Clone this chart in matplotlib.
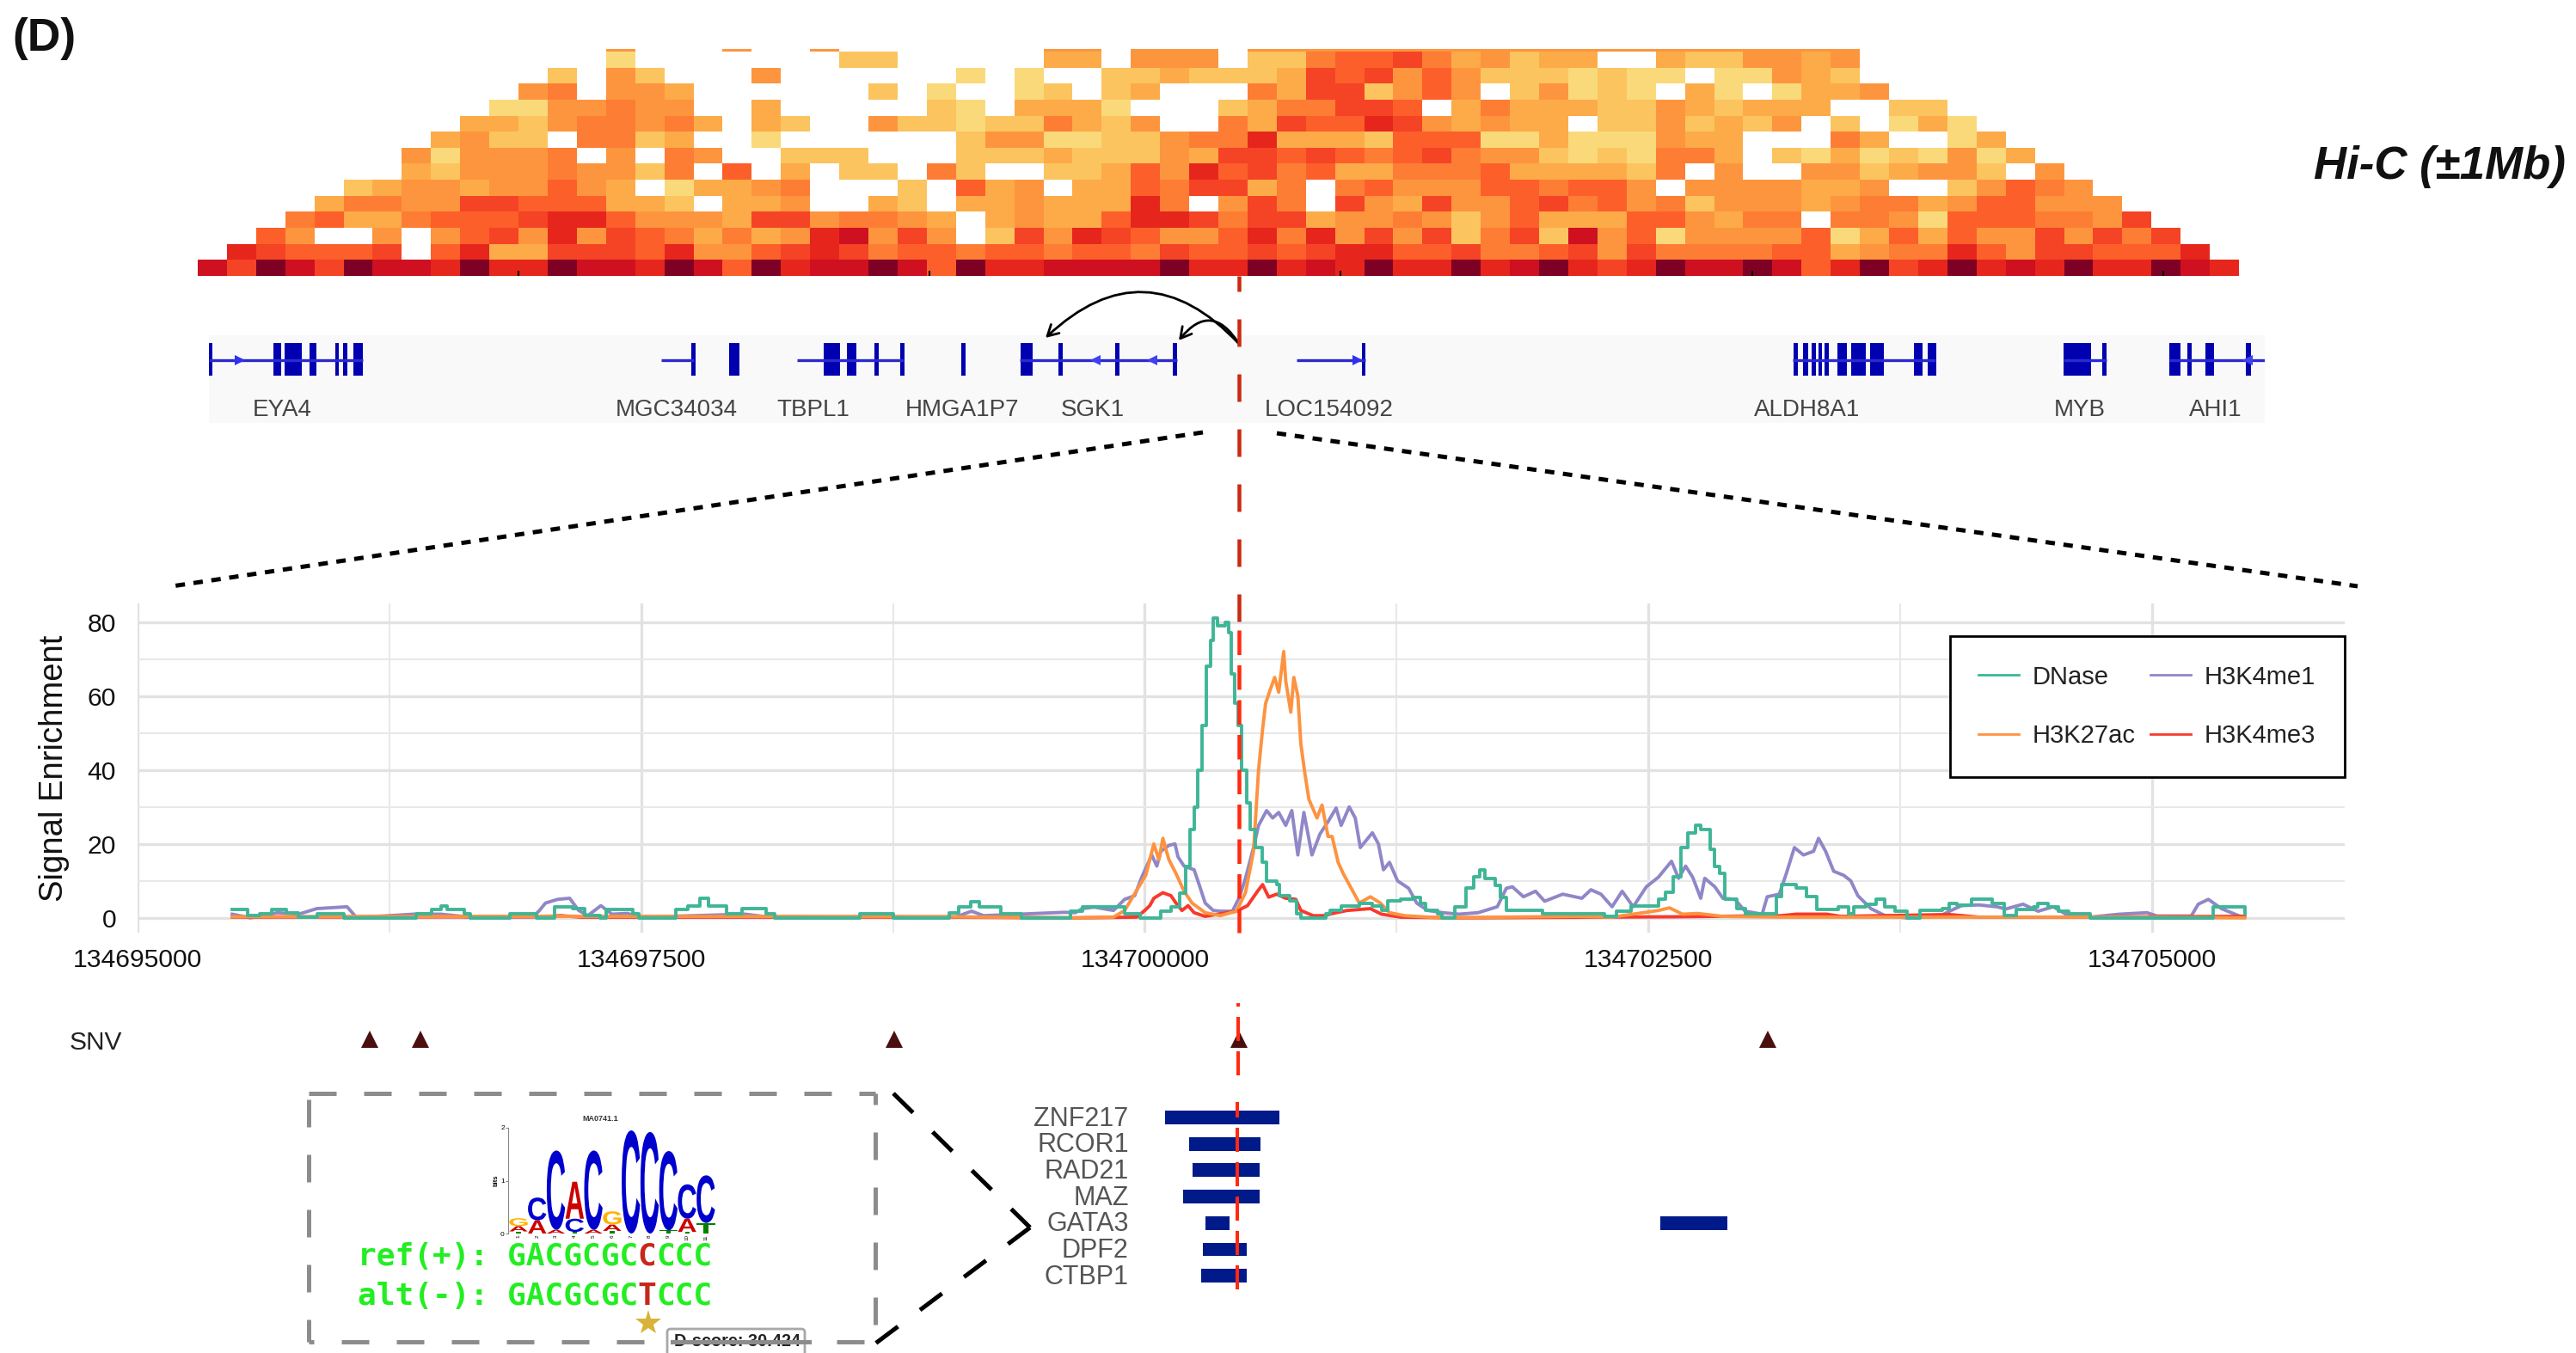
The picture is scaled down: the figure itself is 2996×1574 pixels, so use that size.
import numpy as np
import matplotlib
matplotlib.use("Agg")
import matplotlib.pyplot as plt
from matplotlib.colors import ListedColormap
from matplotlib.font_manager import FontProperties
from matplotlib.patches import FancyArrowPatch, FancyBboxPatch, PathPatch
from matplotlib.textpath import TextPath
from matplotlib.transforms import Affine2D

plt.rcParams["font.family"] = ["Liberation Sans", "DejaVu Sans"]
plt.rcParams["lines.scale_dashes"] = False

W, H = 2996, 1574

# Hi-C levels, bottom row first. "." is an empty cell.
hic_starts = [0, 1, 2, 3, 4, 5, 7, 7, 8, 9, 10, 11, 12, 14, 14]
hic_rows = [
    "8698698879" "7798879859" "7889859778" "8889779" "7879779789" "7679889857" "9679787977987",
    "765556.572" "2666573356" "7645545545" "5" "4655656775" "5644563644" "4455234475" "3665557",
    "53..3.3563" "7365424237" "8363.16376" "5335747363" "6146183503" "3335025253" "363646",
    "4522455567" "7533326634" "432.23225" "7764662334" "3135222553" "244.443055" "54436",
    "2443366555" "221.223..2" "1.223222" "74.364.632" "6335645341" "3332344235" "5333",
    "1233233532" ".02234...1" ".523.22" "546624.453" "33554553.3" "333223..13" "543",
    "2133343314" ".5.2.11.41" "..112" "5375645224" "445222214." "3..3312331" ".3",
    "303334.3.4" "3..111...1" "11211" "1326656545" "6433101044" "2.10201030" "2",
    "2311.4412." ".0......13" "3001" "1344722215" "5500200032" "2...42..02",
    "221344342." "21..311011" "421" "3..4265576" "32322.1131" "213.1.020",
    "0033433..2" ".....10.22" "20" "...1244665" ".242221132" "1222..11",
    "34.332......" "1.0..01.1" "2...426613" "53.13010.2" "0.0223",
    "1.31...3" "......0.0..1" "1211126563" "531110100." "00321",
    "0.......11" ".....22." "333.114556" "423122..21" "13323",
    "3...3..3.......33.333.333333333333333333333",
]
hic_colors = ["#FAD97A", "#FBC45F", "#FCAB48", "#FD953E", "#FD7D35",
              "#FD5F2A", "#F54325", "#E6261C", "#CF1020", "#7F0025"]
hic_ticks = [11.0, 25.1, 39.2, 53.3, 67.4]

# genes, in kb along the 2 Mb window
gene_names = ["EYA4", "MGC34034", "TBPL1", "HMGA1P7", "SGK1", "LOC154092", "ALDH8A1", "MYB", "AHI1"]
gene_label_x = [71.5, 455, 588, 732.5, 860, 1089.5, 1554.7, 1819.8, 1952]
gene_lines = [(0, 150), (440, 472), (572, 676), (732, 736), (789, 942),
              (1058, 1125), (1541, 1680), (1804, 1846), (1907, 2000)]
gene_exons = [
    [(0, 3.6), (62.5, 70.1), (73.6, 90.3), (97.9, 104.8), (122.9, 126.3), (130.5, 134.7), (140.2, 149.9)],
    [(469, 473.1), (506.4, 516.1)],
    [(598, 613.9), (620.9, 629.9), (647.2, 651.4), (672.2, 676.4)],
    [(731.8, 736)],
    [(789.4, 801.2), (826.2, 830.3), (881.6, 885.8), (937.8, 942)],
    [(1121.6, 1125.3)],
    [(1541.3, 1545.8), (1551, 1555.5), (1559.2, 1563.7), (1565.9, 1568.9), (1571.9, 1575.6),
     (1584.6, 1593.5), (1597.3, 1612.2), (1616, 1629.4), (1658.5, 1666.7), (1672, 1680.2)],
    [(1804.2, 1831), (1841.5, 1846)],
    [(1907.2, 1917.7), (1924.4, 1928.9), (1942.3, 1950.5), (1981.9, 1986.4)],
]
arrow_right = [29.9, 1117.9]
arrow_left = [862.2, 917.7, 1983]

# signal tracks, position is bp after 134695000
chrom_start = 134695000
dnase_pos = [470, 545, 605, 665, 740, 800, 890, 1025, 1385, 1460, 1505, 1535, 1620, 1650, 1850, 1980,
             2070, 2160, 2220, 2295, 2325, 2460, 2490, 2670, 2730, 2790, 2835, 2925, 3000, 3120, 3165,
             3585, 3750, 4030, 4075, 4135, 4180, 4285, 4390, 4630, 4690, 4900, 4975, 5080, 5130, 5175,
             5205, 5225, 5245, 5265, 5285, 5305, 5325, 5340, 5360, 5400, 5415, 5430, 5445, 5465, 5480,
             5505, 5525, 5550, 5585, 5605, 5655, 5670, 5720, 5755, 5775, 5900, 5920, 5975, 6065, 6130,
             6175, 6205, 6270, 6330, 6370, 6395, 6455, 6475, 6540, 6595, 6635, 6665, 6690, 6740, 6765,
             6795, 6975, 7280, 7340, 7415, 7550, 7585, 7625, 7660, 7695, 7735, 7760, 7805, 7830, 7855,
             7880, 7940, 7980, 8135, 8160, 8235, 8285, 8335, 8445, 8495, 8520, 8580, 8630, 8675, 8725,
             8785, 8850, 8960, 8995, 9030, 9105, 9205, 9265, 9325, 9410, 9435, 9485, 9535, 9585, 9695,
             10270, 10305, 10415, 10460]
dnase_val = [2.3, 0.6, 1, 2.2, 1.4, 0.2, 1, 0, 1, 2.2, 3.3, 2.2, 1, 0, 1, 0,
             3, 2.6, 0.6, 0, 2.2, 1, 0, 2.2, 3.3, 5.3, 3.3, 1, 2.4, 1, 0,
             1.2, 0, 1.4, 3, 4.3, 3, 1.2, 0, 1.8, 3, 1, 0, 1.8, 3, 6.8,
             14, 24, 30, 40, 52, 68, 75, 81, 79, 80, 77, 66, 58, 52, 40,
             31, 24, 19, 15, 10, 9, 6, 4.5, 1, 0, 1, 2, 3.3, 4, 3.3,
             2, 4.5, 5, 5.6, 4, 2, 1, 0, 3, 8, 11, 13, 10.7, 8.7, 5.6,
             2, 1, 0.5, 1.8, 3.3, 5, 7, 11, 19, 23, 25, 24, 18.5, 14, 12,
             5, 2.5, 1, 5.7, 9, 8, 5.7, 2.2, 3, 1, 3, 3.7, 5, 3, 1.8,
             0, 2, 2.5, 4, 3.5, 5, 4, 0.6, 2.2, 3, 4, 3, 1.8, 1, 0,
             0, 3, 3, 1]
me1_pos = [470, 560, 695, 800, 890, 1040, 1085, 1220, 1370, 1505, 1650, 1965, 1995, 2025, 2085, 2145,
           2190, 2235, 2300, 2355, 2430, 2505, 3015, 3120, 4065, 4140, 4200, 4600, 4655, 4690, 4750,
           4845, 4900, 4950, 4985, 5035, 5060, 5080, 5120, 5150, 5165, 5195, 5245, 5270, 5300, 5340,
           5375, 5435, 5470, 5500, 5540, 5565, 5605, 5635, 5665, 5700, 5730, 5760, 5790, 5830, 5870,
           5910, 5950, 5975, 6015, 6045, 6070, 6130, 6160, 6185, 6215, 6255, 6310, 6350, 6405, 6480,
           6560, 6655, 6750, 6795, 6825, 6880, 6940, 6985, 7075, 7170, 7215, 7265, 7320, 7370, 7425,
           7490, 7550, 7615, 7650, 7685, 7720, 7760, 7780, 7830, 7870, 7930, 7980, 8065, 8090, 8150,
           8185, 8225, 8270, 8320, 8345, 8380, 8420, 8470, 8505, 8540, 8605, 8675, 8785, 8945, 8995,
           9055, 9140, 9230, 9275, 9360, 9435, 9510, 9585, 9695, 9840, 9975, 10025, 10195, 10230,
           10280, 10345, 10430, 10460]
me1_val = [1, 0, 1.4, 1, 2.5, 3, 0.2, 0.5, 1, 1, 0.2, 0.3, 2, 4, 5, 5.3,
           2, 0.6, 3.3, 1, 1.2, 0.2, 1, 0.3, 0.3, 1.8, 0.6, 1.5, 1.4, 2.5, 2.9,
           2, 5, 6, 11, 17, 14, 18, 19.6, 20, 16.5, 14, 13, 9, 4, 2,
           1.8, 1.8, 5.6, 10.7, 19, 25, 29, 27, 28.5, 25, 29, 17, 28.5, 17, 22.7,
           26, 29.7, 25, 30, 27, 19, 23, 20, 13, 15, 10, 8, 4, 2, 1.4,
           1, 1.4, 3, 8, 8.4, 5.7, 7.2, 4.5, 6.4, 5.3, 7.6, 6.4, 3, 7.2, 3,
           8.4, 11, 15.3, 10.7, 14, 11, 5.3, 10.7, 8.4, 5.3, 5, 1.8, 1, 5.7, 6.4,
           12, 19, 17, 18, 21.5, 18, 12.6, 11.5, 10, 6, 2.5, 0.6, 0, 0.4, 1.8,
           3.3, 3.5, 3, 2.4, 3.7, 1.8, 3, 0.6, 0.2, 1, 1.4, 0.5, 0.5, 3.7,
           5, 2.5, 0.6, 0.2]
k27ac_pos = [470, 1500, 3000, 4000, 4655, 4845, 4900, 4955, 5005, 5045, 5070, 5090, 5120, 5155, 5195,
             5235, 5300, 5375, 5455, 5500, 5540, 5565, 5585, 5600, 5625, 5645, 5665, 5690, 5700, 5725,
             5740, 5760, 5775, 5795, 5815, 5855, 5880, 5910, 5930, 5960, 5985, 6025, 6065, 6120, 6170,
             6215, 6290, 6465, 7130, 7320, 7475, 7550, 7605, 7670, 7745, 7870, 8160, 8650, 9265, 9880, 10460]
k27ac_val = [0.3, 0.4, 0.4, 0.3, 0, 0.2, 2, 7, 11.5, 20, 15.7, 21.5, 15.7, 12, 7.2,
             4, 1.4, 0.6, 1.8, 6.8, 18, 40, 51, 58, 62, 65, 61, 72, 64, 55.6,
             65, 60, 47, 39, 32, 27, 30.5, 22, 22, 15, 12, 8, 4, 5.7, 4,
             1.4, 0.6, 0, 0.4, 0.2, 1.4, 2, 2.7, 1, 1.2, 0.4, 0.2, 0.2, 0.2, 0.2, 0]
k4me3_pos = [470, 2000, 2100, 2200, 4000, 4655, 4960, 5000, 5025, 5045, 5090, 5130, 5155, 5185, 5215,
             5245, 5300, 5455, 5510, 5560, 5585, 5615, 5655, 5700, 5750, 5775, 5835, 5890, 5950, 6005,
             6120, 6175, 6270, 6560, 7640, 8160, 8235, 8385, 8455, 8995, 9140, 9630, 10460]
k4me3_val = [0.2, 0.3, 0.6, 0.2, 0.2, 0, 0.2, 2, 3.3, 5.3, 6.8, 6, 4, 2, 3.3,
             1.4, 0.4, 1.8, 3.3, 7.2, 9, 5.6, 6.4, 5.3, 5, 2, 0.6, 0.6, 1.4, 2,
             2.5, 1, 0.2, 0, 0.3, 0.6, 1, 1, 0.4, 0.9, 0.2, 0.2, 0.4]
x_ticks = [0, 2500, 5000, 7500, 10000]
y_ticks = [0, 20, 40, 60, 80]

# SNVs and TF binding sites
snv_pos = [1152, 1404, 3756, 5468, 8093]
tf_names = ["ZNF217", "RCOR1", "RAD21", "MAZ", "GATA3", "DPF2", "CTBP1"]
tf_starts = [5101, 5219, 5238, 5189, 5302, 5287, 5280]
tf_ends = [5667, 5574, 5571, 5571, 5422, 5508, 5508]
tf2_row = [4]
tf2_start = [7559]
tf2_end = [7892]

# motif logo, (letter, height in bits) from the bottom of each position
logo_stacks = [
    [("T", 0.04), ("A", 0.10), ("G", 0.15)],
    [("A", 0.25), ("C", 0.43)],
    [("A", 0.07), ("C", 1.50)],
    [("T", 0.03), ("C", 0.25), ("A", 0.70)],
    [("A", 0.07), ("C", 1.50)],
    [("T", 0.05), ("A", 0.12), ("G", 0.25)],
    [("C", 1.95)],
    [("C", 1.92)],
    [("T", 0.06), ("C", 1.50)],
    [("T", 0.03), ("A", 0.25), ("C", 0.65)],
    [("T", 0.20), ("C", 0.90)],
]
logo_colors = {"A": "#CC0000", "C": "#0000CC", "G": "#FFB300", "T": "#008000"}

track_colors = {"DNase": "#3FB597", "H3K27ac": "#FD9340", "H3K4me1": "#8F87C8", "H3K4me3": "#F8392C"}


def add_axes_px(fig, left, top, right, bottom):
    return fig.add_axes([left / W, 1 - bottom / H, (right - left) / W, (bottom - top) / H])


fig = plt.figure(figsize=(W / 100, H / 100), dpi=100)

# Hi-C triangle
ax_hic = add_axes_px(fig, 230, 57, 2604, 321)
hic = np.full((15, 70), np.nan)
for r, (start, row) in enumerate(zip(hic_starts, hic_rows)):
    for i, ch in enumerate(row):
        if ch != ".":
            hic[r, start + i] = int(ch)
y_edges = np.append(np.arange(15), 14.16)
ax_hic.pcolormesh(np.arange(71), y_edges, np.ma.masked_invalid(hic),
                  cmap=ListedColormap(hic_colors), vmin=-0.5, vmax=9.5)
ax_hic.vlines(hic_ticks, 0, 0.3, color="black", lw=1.5)
ax_hic.set_xlim(0, 70)
ax_hic.set_ylim(0, 14.16)
ax_hic.axis("off")

# genes
ax_gene = add_axes_px(fig, 243, 390, 2634, 492)
ax_gene.set_facecolor("#F9F9F9")
ax_gene.set_xlim(0, 2000)
ax_gene.set_ylim(102, 0)
for line, exons, name, lx in zip(gene_lines, gene_exons, gene_names, gene_label_x):
    if line[1] - line[0] > 5:
        ax_gene.plot(line, [29.3, 29.3], color="#2A2AD0", lw=2.4, solid_capstyle="butt")
    ax_gene.broken_barh([(a, b - a) for a, b in exons], (9, 38), color="#0000B0", lw=0)
    ax_gene.text(lx, 87, name, ha="center", va="center", fontsize=20, color="#444444")
ax_gene.plot(arrow_right, [29.3] * 2, ls="none", marker=">", ms=9, color="#3030F0", mew=0)
ax_gene.plot(arrow_left, [29.3] * 3, ls="none", marker="<", ms=9, color="#4040F0", mew=0)
for side in ax_gene.spines.values():
    side.set_visible(False)
ax_gene.set_xticks([])
ax_gene.set_yticks([])

# signal tracks
ax = add_axes_px(fig, 160, 702, 2727, 1085)
x_lim_right = (2727 - 160) / 0.23428
ax.set_xlim(0, x_lim_right)
ax.set_ylim(-4, 85)
ax.set_xticks(x_ticks)
ax.set_xticklabels([str(chrom_start + t) for t in x_ticks])
ax.set_xticks([1250, 3750, 6250, 8750], minor=True)
ax.set_yticks(y_ticks)
ax.set_yticks([10, 30, 50, 70], minor=True)
ax.grid(which="major", color="#E2E2E2", lw=2.4)
ax.grid(which="minor", color="#E8E8E8", lw=1.5)
ax.set_axisbelow(True)
ax.tick_params(which="both", length=0)
ax.tick_params(axis="x", labelsize=21.7, pad=13, labelcolor="#111111")
ax.tick_params(axis="y", labelsize=21.7, pad=18, labelcolor="#111111")
for side in ax.spines.values():
    side.set_visible(False)
ax.set_ylabel("Signal Enrichment", fontsize=27.5, color="#111111", labelpad=15)
ax.plot(me1_pos, me1_val, color=track_colors["H3K4me1"], lw=2.8, label="H3K4me1")
ax.plot(k4me3_pos, k4me3_val, color=track_colors["H3K4me3"], lw=2.8, label="H3K4me3")
ax.plot(k27ac_pos, k27ac_val, color=track_colors["H3K27ac"], lw=2.8, label="H3K27ac")
ax.step(dnase_pos, dnase_val, where="post", color=track_colors["DNase"], lw=2.8, label="DNase")
handles, labels = ax.get_legend_handles_labels()
order = [labels.index(n) for n in ["DNase", "H3K27ac", "H3K4me1", "H3K4me3"]]
leg = ax.legend([handles[i] for i in order], [labels[i] for i in order], ncol=2, loc="lower right",
                bbox_to_anchor=(1, (1085 - 904) / 383), borderaxespad=0, fontsize=21, frameon=True,
                fancybox=False, edgecolor="black", framealpha=1, handlelength=1.6, handletextpad=0.55,
                columnspacing=0.6, labelspacing=1.4, borderpad=1.15)
leg.get_frame().set_linewidth(2)
for t in leg.get_texts():
    t.set_color("#222222")
for h in leg.get_lines():
    h.set_linewidth(2)

# SNVs and TF rows share the x scale of the tracks, rows are 30.7 px apart
ax_tf = add_axes_px(fig, 160, 1160, 2727, 1560)
ax_tf.set_xlim(0, x_lim_right)
ax_tf.set_ylim((1560 - 1300) / 30.7, (1160 - 1300) / 30.7)
ax_tf.axis("off")
rows = np.arange(len(tf_names))
ax_tf.barh(rows, np.array(tf_ends) - np.array(tf_starts), left=tf_starts, height=0.52, color="#001A8A")
ax_tf.barh(tf2_row, np.array(tf2_end) - np.array(tf2_start), left=tf2_start, height=0.52, color="#001A8A")
for r, name in zip(rows, tf_names):
    ax_tf.text(4920, r + 0.05, name, ha="right", va="center", fontsize=22, color="#555555")
ax_tf.plot(snv_pos, [-2.98] * len(snv_pos), ls="none", marker="^", ms=14, color="#4B0F0F", mew=0)
ax_tf.text(-210, -2.85, "SNV", ha="center", va="center", fontsize=21.5, color="#222222")

# motif logo
ax_logo = add_axes_px(fig, 591, 1312, 834, 1435)
ax_logo.set_xlim(0.45, 11.6)
ax_logo.set_ylim(0, 2)
ax_logo.patch.set_alpha(0)
logo_font = FontProperties(family="Liberation Sans", weight="bold")
for p, stack in enumerate(logo_stacks, start=1):
    base = 0
    for letter, height in stack:
        tp = TextPath((0, 0), letter, size=1, prop=logo_font)
        box = tp.get_extents()
        tr = (Affine2D().translate(-box.x0, -box.y0).scale(0.98 / box.width, height / box.height)
              .translate(p - 0.49, base))
        ax_logo.add_patch(PathPatch(tr.transform_path(tp), color=logo_colors[letter], lw=0))
        base += height
for name in ["top", "right", "bottom"]:
    ax_logo.spines[name].set_visible(False)
ax_logo.spines["left"].set_color("#888888")
ax_logo.set_yticks([0, 1, 2])
ax_logo.set_xticks(range(1, 12))
ax_logo.tick_params(axis="y", labelsize=6, length=2, pad=1, color="#888888")
ax_logo.tick_params(axis="x", labelsize=4.5, length=0, pad=1, labelrotation=90)
ax_logo.set_ylabel("bits", fontsize=5.5, fontweight="bold", labelpad=1)
ax_logo.set_title("MA0741.1", fontsize=6.5, fontweight="bold", color="#333333", pad=6, x=0.44)

# everything drawn on the picture itself goes on a pixel overlay
ov = fig.add_axes([0, 0, 1, 1], zorder=10)
ov.set_xlim(0, W)
ov.set_ylim(H, 0)
ov.axis("off")
ov.patch.set_alpha(0)
PX = 0.72

ov.text(14, 45, "(D)", fontsize=38.5, fontweight="bold", ha="left", va="center", color="#111111")
ov.text(2691, 194, "Hi-C (±1Mb)", fontsize=38, fontweight="bold", fontstyle="italic",
        ha="left", va="center", color="#111111")

# zoom guides
for x0, y0, x1, y1 in [(1399, 503, 200, 682), (1485, 504, 2742, 682)]:
    ov.plot([x0, x1], [y0, y1], color="black", lw=5 * PX, ls=(0, (11 * PX, 10 * PX)))

# SNV line, dark above the tracks and bright red through them and the TF rows
x_snv = 1441
ov.plot([x_snv, x_snv], [321, 723], color="#C92A10", lw=4.5 * PX, ls=(14 * PX, (32 * PX, 32 * PX)))
ov.plot([x_snv, x_snv], [733, 1085], color="#FF2A10", lw=4.5 * PX, ls=(0, (28.5 * PX, 12 * PX)))
ov.plot([x_snv - 1, x_snv - 1], [1167, 1252], color="#FF2A10", lw=4 * PX, ls=(24 * PX, (28 * PX, 12 * PX)))
ov.plot([x_snv - 2, x_snv - 2], [1282, 1501], color="#FF2A10", lw=4 * PX, ls=(10 * PX, (28 * PX, 12 * PX)))

# loops
ov.add_patch(FancyArrowPatch((1441, 400), (1216, 393), connectionstyle="arc3,rad=0.5",
                             arrowstyle="->,head_length=9,head_width=5", color="black", lw=2,
                             shrinkA=0, shrinkB=0))
ov.add_patch(FancyArrowPatch((1441, 400), (1371, 396), connectionstyle="arc3,rad=0.7",
                             arrowstyle="->,head_length=9,head_width=5", color="black", lw=2,
                             shrinkA=0, shrinkB=0))

# tooltip under the motif box
ov.add_patch(FancyBboxPatch((776, 1546), 160, 60, boxstyle="round,pad=0,rounding_size=4",
                            fc="white", ec="#A8A8A8", lw=2, zorder=2, clip_on=True))
ov.text(857, 1561, "D-score: 30.424", fontsize=14.3, fontweight="bold", ha="center", va="center",
        color="#222222", zorder=3)
ov.plot([754], [1539], marker="*", ms=22, color="#D9B23A", mew=0, zorder=4)

# dashed motif box
box_color = "#8A8C8E"
dash = (32 * PX, 32 * PX)
ov.plot([359, 1018], [1272, 1272], color=box_color, lw=3.6, ls=(0, dash), zorder=5)
ov.plot([1018, 1018], [1272, 1561], color=box_color, lw=3.6, ls=(19 * PX, dash), zorder=5)
ov.plot([359, 359], [1279, 1561], color=box_color, lw=3.6, ls=(0, dash), zorder=5)
ov.plot([359, 1018], [1561, 1561], color=box_color, lw=3.6, ls=(26 * PX, dash), zorder=5)
ov.plot([782, 941], [1561, 1561], color=box_color, lw=3.6, zorder=5)

# bracket from the box to GATA3, one dash sits on the point
ov.plot([1039, 1198], [1272, 1428], color="black", lw=3.6, ls=(0, dash), zorder=5)
ov.plot([1198, 1018], [1428, 1563], color="black", lw=3.6, ls=(0, dash), zorder=5)

# sequences, the changed base is its own text
seq_x = 416
char_w = 21.7
seq_font = dict(family="DejaVu Sans Mono", fontsize=26, fontweight="bold", color="#22EE22",
                ha="left", va="center")
red_font = dict(seq_font, color="#C8281A")
for y, head, base in [(1462, "ref(+): GACGCGC", "C"), (1508, "alt(-): GACGCGC", "T")]:
    ov.text(seq_x, y, head, **seq_font)
    ov.text(seq_x + 15 * char_w, y, base, **red_font)
    ov.text(seq_x + 16 * char_w, y, "CCC", **seq_font)

fig.savefig("out.png", dpi=100, facecolor="white")
